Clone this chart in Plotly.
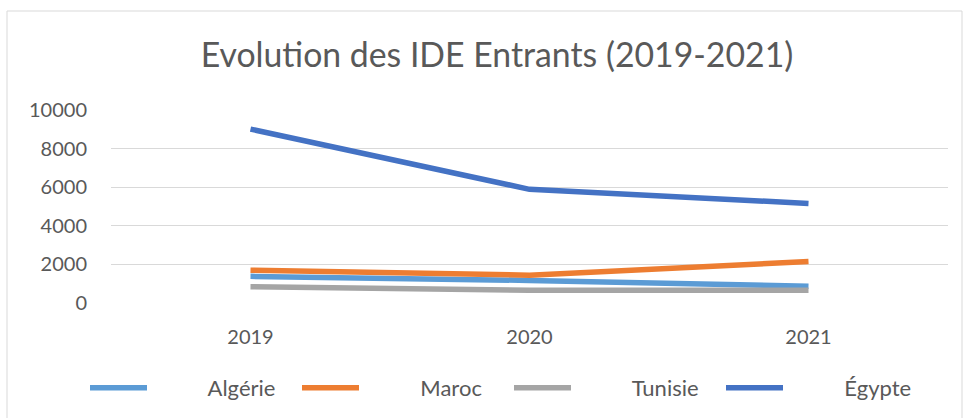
import plotly.graph_objects as go

years = ["2019", "2020", "2021"]
algerie = [1380, 1170, 870]
maroc = [1700, 1440, 2150]
tunisie = [840, 660, 660]
egypte = [9010, 5890, 5160]
y_ticks = [0, 2000, 4000, 6000, 8000, 10000]
y_tick_text = ["0", "2000", "4000", "6000", "8000", "10000"]

series = [
    ("Algérie", algerie, "#5B9BD5"),
    ("Maroc", maroc, "#ED7D31"),
    ("Tunisie", tunisie, "#A5A5A5"),
    ("Égypte", egypte, "#4472C4"),
]

PAD = "\u00a0" * 10

fig = go.Figure()
for name, vals, col in series:
    fig.add_trace(go.Scatter(x=years, y=vals, name=PAD + name, mode="lines",
                             line=dict(color=col, width=5.5)))

W, H = 964, 418
L, R, T, B = 111, 16, 110, 115
pw, ph = W - L - R, H - T - B

def px(x):
    return (x - L) / pw

def py(y):
    return (H - B - y) / ph

fig.update_layout(
    width=W, height=H,
    margin=dict(l=L, r=R, t=T, b=B, autoexpand=False),
    paper_bgcolor="white", plot_bgcolor="white",
    font=dict(family="Lato, 'Open Sans', sans-serif", color="#595959", size=20),
    title=dict(text="Evolution des IDE Entrants (2019-2021)", x=497 / W, xanchor="center",
               xref="container", y=1 - 55 / H, yanchor="middle",
               font=dict(size=33.8, color="#595959", family="Lato, sans-serif")),
    xaxis=dict(type="category", range=[-0.5, 2.5], showgrid=False, showline=False,
               zeroline=False, ticks="", ticklabelstandoff=20,
               tickfont=dict(size=20, color="#595959")),
    yaxis=dict(range=[0, 10000], tickvals=y_ticks, ticktext=y_tick_text, showgrid=True,
               gridcolor="#D9D9D9", gridwidth=1, zeroline=False, showline=False, ticks="",
               ticklabelstandoff=23, tickfont=dict(size=20, color="#595959")),
    showlegend=True,
    legend=dict(orientation="h", x=px(85), xanchor="left", y=py(388), yanchor="middle",
                entrywidth=140, entrywidthmode="pixels", itemwidth=57,
                font=dict(size=22, color="#595959"), bgcolor="rgba(0,0,0,0)"),
    shapes=[dict(type="rect", xref="paper", yref="paper",
                 x0=px(7), x1=px(962), y0=py(11), y1=py(430),
                 line=dict(color="#D9D9D9", width=1), fillcolor="rgba(0,0,0,0)",
                 layer="below")],
)

fig.write_html("out.html", config={"displayModeBar": False},
               post_script="document.body.style.margin='0';")
